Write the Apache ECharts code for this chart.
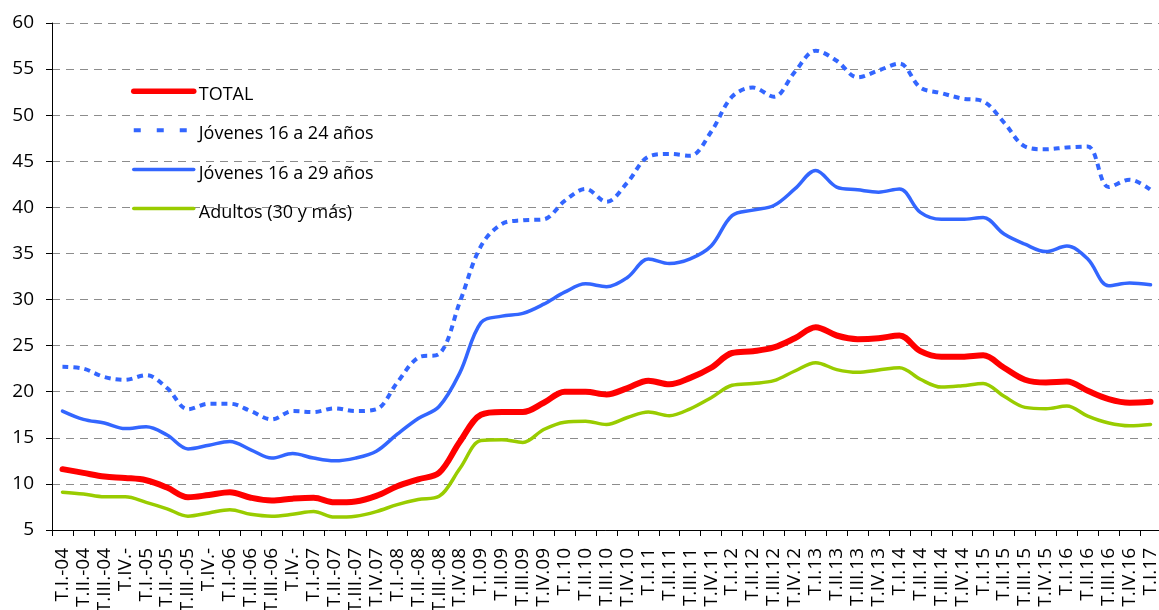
<!DOCTYPE html>
<html>
<head>
<meta charset="utf-8">
<script src="https://cdn.jsdelivr.net/npm/echarts@6/dist/echarts.min.js"></script>
<style>
  html, body { margin: 0; padding: 0; background: #fff; }
  #chart { width: 1159px; height: 610px; }
</style>
</head>
<body>
<div id="chart"></div>
<script>
// Quarterly periods, 2004 Q1 to 2017 Q1
const quarters = [
  "T.I.-04","T.II.-04","T.III.-04","T.IV.-","T.I.-05","T.II.-05","T.III.-05","T.IV.-",
  "T.I.-06","T.II.-06","T.III.-06","T.IV.-","T.I.-07","T.II.-07","T.III.-07","T.IV.07",
  "T.I.-08","T.II.-08","T.III.-08","T.IV.08","T.I.09","T.II.09","T.III.09","T.IV.09",
  "T.I.10","T.II.10","T.III.10","T.IV.10","T.I.11","T.II.11","T.III.11","T.IV.11",
  "T.I.12","T.II.12","T.III.12","T.IV.12","T.I.13","T.II.13","T.III.13","T.IV.13",
  "T.I.14","T.II.14","T.III.14","T.IV.14","T.I.15","T.II.15","T.III.15","T.IV.15",
  "T.I.16","T.II.16","T.III.16","T.IV.16","T.I.17"
];

const total = [
  11.6, 11.2, 10.8, 10.65, 10.4, 9.6, 8.55, 8.8, 9.1, 8.5, 8.2, 8.4, 8.5, 8.0, 8.1, 8.7,
  9.75, 10.5, 11.2, 14.6, 17.5, 17.8, 17.8, 18.8, 20.0, 20.0, 19.7, 20.4, 21.2, 20.8, 21.5, 22.6,
  24.2, 24.4, 24.8, 25.8, 27.0, 26.1, 25.7, 25.8, 26.1, 24.4, 23.8, 23.8, 23.95, 22.6, 21.3, 21.0,
  21.1, 20.1, 19.2, 18.8, 18.9
];

const jovenes16a24 = [
  22.7, 22.5, 21.6, 21.3, 21.8, 20.4, 18.1, 18.7, 18.7, 17.9, 17.0, 17.9, 17.8, 18.2, 17.9, 18.1,
  21.0, 23.7, 24.1, 29.8, 35.8, 38.2, 38.6, 38.7, 40.7, 42.0, 40.6, 42.7, 45.5, 45.8, 45.6, 48.2,
  52.0, 53.0, 52.0, 54.7, 57.0, 55.9, 54.1, 54.85, 55.6, 53.0, 52.4, 51.8, 51.5, 49.2, 46.6, 46.3,
  46.5, 46.6, 42.2, 43.0, 41.9
];

const jovenes16a29 = [
  17.9, 17.0, 16.6, 16.0, 16.2, 15.3, 13.8, 14.2, 14.6, 13.7, 12.8, 13.3, 12.8, 12.5, 12.8, 13.55,
  15.4, 17.1, 18.4, 22.1, 27.5, 28.2, 28.5, 29.5, 30.8, 31.7, 31.4, 32.4, 34.4, 33.9, 34.4, 35.8,
  39.1, 39.7, 40.2, 42.0, 44.0, 42.2, 41.9, 41.65, 42.0, 39.45, 38.7, 38.7, 38.9, 37.1, 36.0, 35.2,
  35.8, 34.4, 31.5, 31.8, 31.6
];

const adultos = [
  9.1, 8.9, 8.6, 8.6, 8.0, 7.3, 6.5, 6.85, 7.2, 6.7, 6.5, 6.7, 7.0, 6.4, 6.5, 7.0,
  7.75, 8.3, 8.65, 11.7, 14.7, 14.8, 14.5, 15.9, 16.7, 16.8, 16.45, 17.2, 17.8, 17.4, 18.15, 19.35,
  20.7, 20.9, 21.2, 22.25, 23.15, 22.4, 22.1, 22.35, 22.6, 21.35, 20.5, 20.65, 20.9, 19.5, 18.3, 18.15,
  18.45, 17.35, 16.6, 16.3, 16.45
];

const seriesNames = ['TOTAL', 'Jóvenes 16 a 24 años', 'Jóvenes 16 a 29 años', 'Adultos (30 y más)'];

const FONT = "'Open Sans', 'Noto Sans', sans-serif";

const chart = echarts.init(document.getElementById('chart'), null, { renderer: 'canvas' });

function lineSeries(name, data, color, width, type, cap) {
  return {
    name: name,
    type: 'line',
    data: data,
    smooth: 0.35,
    showSymbol: false,
    symbol: 'none',
    animation: false,
    lineStyle: { color: color, width: width, type: type || 'solid', cap: cap || 'round' },
    itemStyle: { color: color }
  };
}

chart.setOption({
  animation: false,
  backgroundColor: '#ffffff',
  grid: { left: 52, right: -2, top: 23, bottom: 80, containLabel: false, outerBoundsMode: 'none' },
  legend: {
    orient: 'vertical',
    left: 131,
    top: 84,
    padding: 0,
    itemWidth: 60,
    itemHeight: 18,
    itemGap: 18.9,
    itemStyle: { opacity: 0 },
    formatter: '{t|{name}}',
    textStyle: {
      fontFamily: FONT, fontSize: 18, color: '#000',
      rich: { t: { fontFamily: FONT, fontSize: 18, color: '#000', padding: [8, 0, 0, 0] } }
    },
    data: [
      { name: seriesNames[0], lineStyle: { width: 5.5, cap: 'round' } },
      { name: seriesNames[1], lineStyle: { width: 4, type: [7, 16], cap: 'butt' } },
      { name: seriesNames[2], lineStyle: { width: 3.5, cap: 'round' } },
      { name: seriesNames[3], lineStyle: { width: 3.5, cap: 'round' } }
    ]
  },
  xAxis: {
    type: 'category',
    data: quarters,
    boundaryGap: true,
    axisLine: { lineStyle: { color: '#000', width: 1 } },
    axisTick: { show: true, length: 6, lineStyle: { color: '#000' } },
    axisLabel: {
      rotate: 90,
      interval: 0,
      fontFamily: FONT,
      fontSize: 19,
      color: '#000',
      margin: 18
    },
    splitLine: { show: false }
  },
  yAxis: {
    type: 'value',
    min: 5,
    max: 60,
    interval: 5,
    axisLine: { show: true, lineStyle: { color: '#000', width: 1 } },
    axisTick: { show: true, length: 6, inside: false, lineStyle: { color: '#000' } },
    axisLabel: { fontFamily: FONT, fontSize: 19, color: '#000', margin: 18 },
    splitLine: { show: true, lineStyle: { color: '#8c8c8c', width: 1, type: [8, 6] } }
  },
  series: [
    lineSeries(seriesNames[0], total, '#ff0000', 6),
    lineSeries(seriesNames[1], jovenes16a24, '#3366ff', 4, [6, 5], 'butt'),
    lineSeries(seriesNames[2], jovenes16a29, '#3366ff', 3.5),
    lineSeries(seriesNames[3], adultos, '#99cc00', 3.5)
  ]
});
</script>
</body>
</html>
